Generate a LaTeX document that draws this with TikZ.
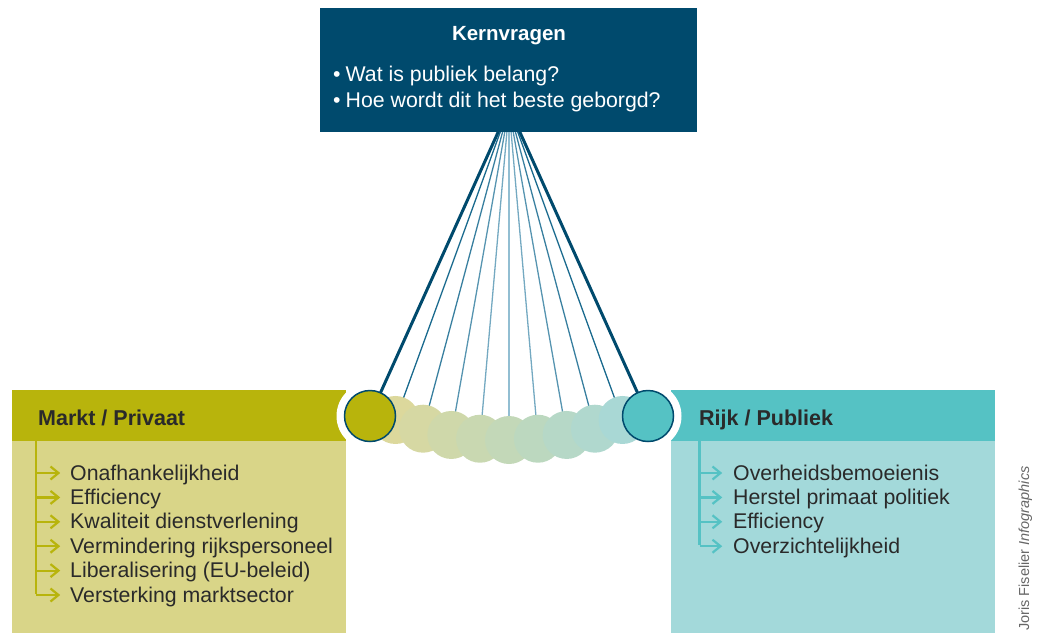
\documentclass[tikz,border=0pt]{standalone}
\usepackage{fontspec}
\setmainfont{Liberation Sans}
\usetikzlibrary{arrows.meta}
\definecolor{kern}{HTML}{004A6D}
\definecolor{mkt}{HTML}{B8B40C}
\definecolor{mktlt}{HTML}{D9D588}
\definecolor{rijk}{HTML}{55C2C4}
\definecolor{rijklt}{HTML}{A3D9DA}
\definecolor{txt}{HTML}{2A2A2A}
\definecolor{credit}{HTML}{666666}
\definecolor{lnA}{HTML}{1A6A8E}
\definecolor{lnB}{HTML}{92BED2}
\definecolor{yelBall}{HTML}{DCD89C}
\definecolor{tealBall}{HTML}{A9D8D5}
\tikzset{
  panel/.style={anchor=north west, inner sep=0pt, outer sep=0pt},
  head/.style={anchor=base west, inner sep=0pt, text=txt, font=\bfseries\fontsize{21.5}{25}\selectfont},
  item/.style={anchor=base west, inner sep=0pt, text=txt, font=\fontsize{21.3}{25}\selectfont},
  ball/.style={circle, minimum size=48pt, inner sep=0pt},
  bigball/.style={circle, minimum size=51pt, inner sep=0pt, draw=kern, line width=1.5pt},
  halo/.style={circle, minimum size=67pt, inner sep=0pt, fill=white},
  bracket/.style={line width=2.2pt},
  tick/.style={line width=2.2pt},
}
\begin{document}
\begin{tikzpicture}[x=1pt,y=-1pt]
\useasboundingbox (0,0) rectangle (1038,632);
% side panels
\node[panel, fill=mkt, minimum width=334pt, minimum height=50.5pt] (lh) at (12,390) {};
\node[panel, fill=mktlt, minimum width=334pt, minimum height=192pt] (lb) at (12,440.5) {};
\node[panel, fill=rijk, minimum width=324pt, minimum height=50.5pt] (rh) at (671,390) {};
\node[panel, fill=rijklt, minimum width=324pt, minimum height=192pt] (rb) at (671,440.5) {};
\node[head] (lt) at (38,425) {Markt / Privaat};
\node[head] (rt) at (699,425) {Rijk / Publiek};
% left list
\foreach \t [count=\n] in {Onafhankelijkheid,Efficiency,Kwaliteit dienstverlening,Vermindering rijkspersoneel,Liberalisering (EU-beleid),Versterking marktsector}{
  \pgfmathsetmacro\yy{480+24.4*(\n-1)}
  \node[item] (li\n) at (70,\yy) {\t};
  \coordinate (la\n) at (36,\yy-7);
  \coordinate (lt\n) at (58.5,\yy-7);
  \draw[tick, mkt] (la\n) -- (lt\n);
  \draw[tick, mkt, line join=miter] ([shift={(-8,-6.5)}]lt\n) -- (lt\n) -- ([shift={(-8,6.5)}]lt\n);
}
\coordinate (ltop) at (36,440.5);
\draw[bracket, mkt] (ltop) -- ([yshift=1.1pt]la6);
% right list
\foreach \t [count=\n] in {Overheidsbemoeienis,Herstel primaat politiek,Efficiency,Overzichtelijkheid}{
  \pgfmathsetmacro\yy{480+24.4*(\n-1)}
  \node[item] (ri\n) at (733,\yy) {\t};
  \coordinate (ra\n) at (699.5,\yy-7);
  \coordinate (rt\n) at (720.5,\yy-7);
  \draw[tick, rijk] (ra\n) -- (rt\n);
  \draw[tick, rijk, line join=miter] ([shift={(-8,-6.5)}]rt\n) -- (rt\n) -- ([shift={(-8,6.5)}]rt\n);
}
\coordinate (rtop) at (699.5,440.5);
\draw[bracket, rijk] (rtop) -- ([yshift=1.1pt]ra4);
% halos
\node[halo] (wl) at (370,416) {};
\node[halo] (wr) at (648,416) {};
% pendulum
\coordinate (apex) at (509,108);
\coordinate (cl) at (370,416);
\coordinate (cr) at (648,416);
\foreach \k in {1,...,9}{
  \pgfmathsetmacro\ang{5*(\k-5)}
  \pgfmathsetmacro\px{509+332*sin(\ang)}
  \pgfmathsetmacro\py{108+332*cos(\ang)}
  \coordinate (c\k) at (\px,\py);
}
\foreach \k in {1,...,9}{
  \pgfmathtruncatemacro\lp{100-25*abs(\k-5)}
  \draw[line width=1.3pt, color=lnB!\lp!lnA] (apex) -- (c\k);
}
\draw[line width=3pt, kern] (apex) -- (cl);
\draw[line width=3pt, kern] (apex) -- (cr);
\foreach \k in {1,...,9}{
  \pgfmathtruncatemacro\bp{100*(\k-1)/8}
  \node[ball, fill=tealBall!\bp!yelBall] (b\k) at (c\k) {};
}
\node[bigball, fill=mkt] (bl) at (cl) {};
\node[bigball, fill=rijk] (br) at (cr) {};
% top box
\node[panel, fill=kern, minimum width=377pt, minimum height=124pt] (kern) at (320,7.5) {};
\node[anchor=base, inner sep=0pt, text=white, font=\bfseries\fontsize{20.5}{24}\selectfont] (kt) at (509,40) {Kernvragen};
\node[anchor=base west, inner sep=0pt, text=white, font=\fontsize{21.3}{25}\selectfont] (q1) at (333,81) {\textbullet\hspace{5pt}Wat is publiek belang?};
\node[anchor=base west, inner sep=0pt, text=white, font=\fontsize{21.3}{25}\selectfont] (q2) at (333,107) {\textbullet\hspace{5pt}Hoe wordt dit het beste geborgd?};
% credit
\node[rotate=90, anchor=base west, inner sep=0pt, text=credit, font=\fontsize{14.5}{16}\selectfont] (cred) at (1029,631) {Joris Fiselier \textit{Infographics}};
\end{tikzpicture}
\end{document}
